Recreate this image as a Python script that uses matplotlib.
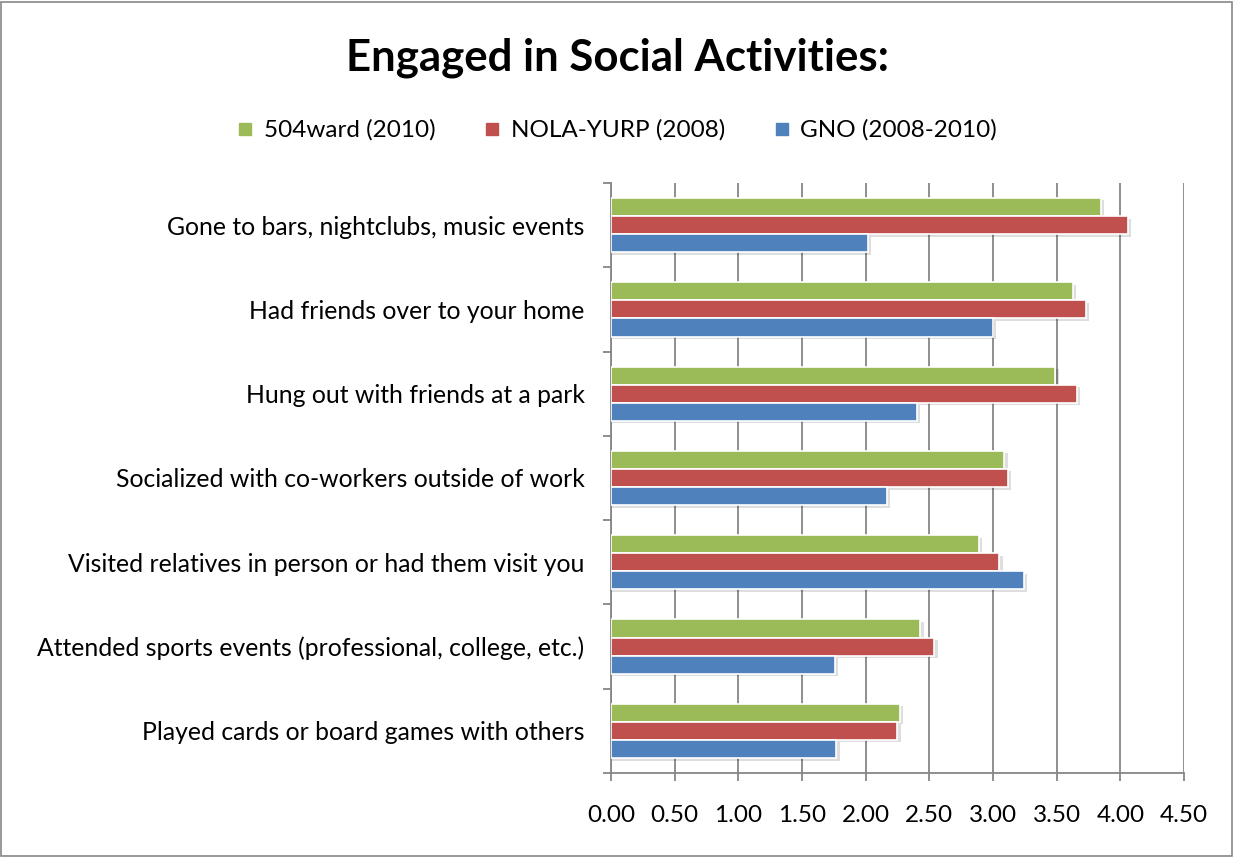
import matplotlib.pyplot as plt
from matplotlib.lines import Line2D
from matplotlib.patches import Rectangle
import numpy as np

plt.rcParams['font.family'] = ['Lato', 'DejaVu Sans']

categories = [
    'Gone to bars, nightclubs, music events',
    'Had friends over to your home',
    'Hung out with friends at a park',
    'Socialized with co-workers outside of work',
    'Visited relatives in person or had them visit you',
    'Attended sports events (professional, college, etc.)',
    'Played cards or board games with others',
]
ward504 = [3.85, 3.63, 3.49, 3.09, 2.89, 2.43, 2.27]
nola_yurp = [4.06, 3.73, 3.66, 3.12, 3.05, 2.54, 2.25]
gno = [2.02, 3.00, 2.40, 2.17, 3.24, 1.76, 1.77]

series = [
    ('504ward (2010)', ward504, '#9bbb59'),
    ('NOLA-YURP (2008)', nola_yurp, '#c0504d'),
    ('GNO (2008-2010)', gno, '#4f81bd'),
]

fig = plt.figure(figsize=(12.34, 8.57), dpi=100)
ax = fig.add_axes([0.4951, 0.098, 0.4644, 0.6885])

y = np.arange(len(categories))
h = 0.215
offsets = [-h, 0, h]
for (label, vals, color), off in zip(series, offsets):
    # soft shadow behind each bar
    ax.barh(y + off + 0.03, np.array(vals) + 0.025, height=h, color='#000000',
            alpha=0.13, zorder=2, linewidth=0)
    ax.barh(y + off, vals, height=h, color=color, edgecolor='white',
            linewidth=1.2, zorder=3)

ax.set_xlim(0, 4.5)
ax.set_ylim(len(categories) - 0.5, -0.5)
ax.set_xticks(np.arange(0, 4.51, 0.5))
ax.set_xticklabels([f'{v:.2f}' for v in np.arange(0, 4.51, 0.5)], fontsize=17.5)
ax.xaxis.grid(True, color='#868686', linewidth=1.3, zorder=0)
ax.set_axisbelow(True)

ax.set_yticks(np.arange(-0.5, len(categories), 1.0))
ax.set_yticklabels([])
ax.set_yticks(y, minor=True)
ax.set_yticklabels(categories, minor=True, fontsize=17.8)
ax.tick_params(axis='y', which='minor', length=0, pad=19)
ax.tick_params(axis='y', which='major', length=6, color='#868686', width=1.3)
ax.tick_params(axis='x', length=6, color='#868686', width=1.3, pad=17)

for s in ['top', 'right']:
    ax.spines[s].set_visible(False)
for s in ['left', 'bottom']:
    ax.spines[s].set_color('#868686')
    ax.spines[s].set_linewidth(1.3)

fig.text(0.5, 0.933, 'Engaged in Social Activities:', ha='center', va='center',
         fontsize=31.5, fontweight='bold')

handles = [Line2D([], [], marker='s', linestyle='none', markersize=9,
                  markerfacecolor=c, markeredgecolor=c) for _, _, c in series]
fig.legend(handles, [s[0] for s in series], loc='center', ncol=3,
           bbox_to_anchor=(0.5, 0.848), frameon=False, fontsize=17.5,
           handlelength=0.7, handletextpad=0.4, columnspacing=2.0)

fig.patches.append(Rectangle((0.001, 0.001), 0.997, 0.997, transform=fig.transFigure,
                             fill=False, edgecolor='#888888', linewidth=1.2))

fig.savefig('out.png', dpi=100, facecolor='white')
